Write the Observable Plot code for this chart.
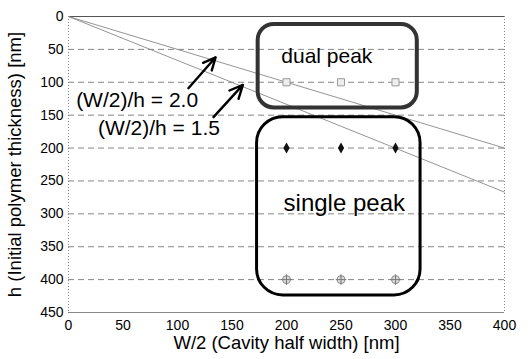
<!DOCTYPE html>
<html>
<head>
<meta charset="utf-8">
<script src="https://cdn.jsdelivr.net/npm/d3@7"></script>
<script src="https://cdn.jsdelivr.net/npm/@observablehq/plot@0.6"></script>
<style>
  html, body { margin: 0; padding: 0; background: white; }
</style>
</head>
<body>
<div id="chart"></div>
<script>
const xTicks = [0, 50, 100, 150, 200, 250, 300, 350, 400];
const yTicks = [0, 50, 100, 150, 200, 250, 300, 350, 400, 450];
const gridH = [50, 100, 150, 200, 250, 300, 350, 400];

const ratioLineX = [0, 400];
const ratio20H = [0, 200];
const ratio15H = [0, 267];

const ratioLabels = ["(W/2)/h = 2.0", "(W/2)/h = 1.5"];
const ratioLabelX = [7, 27];
const ratioLabelH = [127, 170];

const arrowFromX = [110, 133];
const arrowFromH = [109, 153];
const arrowToX = [135, 160];
const arrowToH = [62, 104];

const dualX = [200, 250, 300];
const dualH = [100, 100, 100];
const singleMidX = [200, 250, 300];
const singleMidH = [200, 200, 200];
const singleLowX = [200, 250, 300];
const singleLowH = [400, 400, 400];

const boxNames = ["dual peak", "single peak"];
const boxX1 = [174, 173];
const boxX2 = [320, 323];
const boxH1 = [12, 153];
const boxH2 = [139, 424];
const boxLabelX = [237, 253];
const boxLabelH = [60, 284];

const xLabel = "W/2 (Cavity half width) [nm]";
const yLabel = "h (Initial polymer thickness) [nm]";

const pts = (xs, hs) => xs.map((x, i) => ({x, h: hs[i]}));
const lines = [
  ...ratioLineX.map((x, i) => ({x, h: ratio20H[i], k: "2.0"})),
  ...ratioLineX.map((x, i) => ({x, h: ratio15H[i], k: "1.5"}))
];
const arrows = arrowFromX.map((x, i) => ({x1: x, y1: arrowFromH[i], x2: arrowToX[i], y2: arrowToH[i]}));
const ratioText = ratioLabels.map((t, i) => ({t, x: ratioLabelX[i], h: ratioLabelH[i]}));
const boxes = boxNames.map((n, i) => ({n, x1: boxX1[i], x2: boxX2[i], y1: boxH1[i], y2: boxH2[i], lx: boxLabelX[i], lh: boxLabelH[i]}));

const chart = Plot.plot({
  width: 529,
  height: 359,
  marginLeft: 68,
  marginRight: 25,
  marginTop: 16,
  marginBottom: 47,
  style: {fontFamily: "'Liberation Sans', Arial, Helvetica, sans-serif", fontSize: "14px", background: "white", color: "black"},
  x: {domain: [0, 400]},
  y: {domain: [0, 450], reverse: true},
  marks: [
    Plot.ruleY(gridH, {stroke: "#777", strokeWidth: 0.9, strokeDasharray: "6,4"}),
    Plot.ruleY([0], {stroke: "#555", strokeWidth: 1}),
    Plot.ruleY([450], {stroke: "#888", strokeWidth: 1}),
    Plot.ruleX([0, 400], {stroke: "#888", strokeWidth: 1, strokeDasharray: "1,2"}),
    Plot.line(lines, {x: "x", y: "h", z: "k", stroke: "#888", strokeWidth: 0.9}),
    Plot.rect([boxes[0]], {x1: "x1", x2: "x2", y1: "y1", y2: "y2", rx: 16, fill: "none", stroke: "#333", strokeWidth: 4}),
    Plot.rect([boxes[1]], {x1: "x1", x2: "x2", y1: "y1", y2: "y2", rx: 26, fill: "none", stroke: "black", strokeWidth: 3}),
    Plot.dot(pts(dualX, dualH), {x: "x", y: "h", symbol: "square", r: 4, stroke: "#999", fill: "#eee", strokeWidth: 1}),
    Plot.dot(pts(singleMidX, singleMidH), {x: "x", y: "h", symbol: "diamond", r: 3.3, fill: "#111", stroke: "none"}),
    Plot.dot(pts(singleLowX, singleLowH), {x: "x", y: "h", symbol: "circle", r: 4, stroke: "#888", fill: "#ddd", strokeWidth: 1}),
    Plot.dot(pts(singleLowX, singleLowH), {x: "x", y: "h", symbol: "plus", r: 3.5, stroke: "#777", strokeWidth: 1}),
    Plot.arrow(arrows, {x1: "x1", y1: "y1", x2: "x2", y2: "y2", stroke: "black", strokeWidth: 2.4, headLength: 11, headAngle: 50}),
    Plot.text(ratioText, {x: "x", y: "h", text: "t", textAnchor: "start", fontSize: 21, fill: "black"}),
    Plot.text(boxes, {x: "lx", y: "lh", text: "n", fontSize: d => d.n === "dual peak" ? 21 : 24, fill: "black"}),
    Plot.axisX(xTicks, {tickSize: 0, tickPadding: 8, label: null, fontSize: 14}),
    Plot.axisY(yTicks, {tickSize: 0, tickPadding: 5, label: null, fontSize: 14}),
    Plot.text([xLabel], {frameAnchor: "bottom", textAnchor: "middle", lineAnchor: "middle", dy: 31, fontSize: 18.5, fill: "black"}),
    Plot.text([yLabel], {frameAnchor: "left", textAnchor: "middle", lineAnchor: "middle", dx: -53, rotate: -90, fontSize: 18.5, fill: "black"})
  ]
});
document.getElementById("chart").appendChild(chart);
</script>
</body>
</html>
